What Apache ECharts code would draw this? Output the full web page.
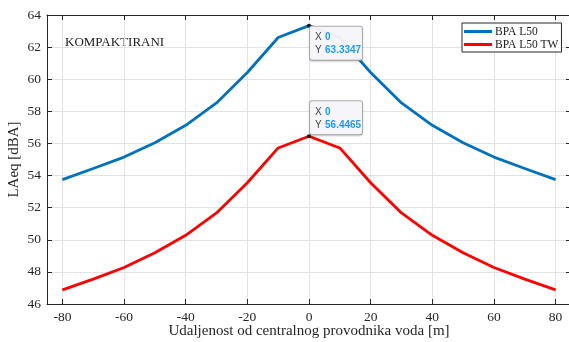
<!DOCTYPE html>
<html>
<head>
<meta charset="utf-8">
<script src="https://cdn.jsdelivr.net/npm/echarts@6/dist/echarts.min.js"></script>
<style>
  html, body { margin: 0; padding: 0; background: #fff; }
  #chart { width: 569px; height: 342px; }
</style>
</head>
<body>
<div id="chart"></div>
<script>
// udaljenost od centralnog provodnika [m]
const distances = [-80, -70, -60, -50, -40, -30, -20, -10, 0, 10, 20, 30, 40, 50, 60, 70, 80];
const bpaL50 = [53.75, 54.44, 55.15, 56.04, 57.13, 58.52, 60.42, 62.6, 63.3347, 62.6, 60.42, 58.52, 57.13, 56.04, 55.15, 54.44, 53.75];
const bpaL50TW = [46.88, 47.55, 48.27, 49.19, 50.28, 51.67, 53.55, 55.72, 56.4465, 55.72, 53.55, 51.67, 50.28, 49.19, 48.27, 47.55, 46.88];
const xTicks = [-80, -60, -40, -20, 0, 20, 40, 60, 80];
const peakIndex = 8;

const serif = 'Liberation Serif';
const axisColor = '#262626';
const gridColor = '#e3e3e3';

const pairs = (vals) => distances.map((d, i) => [d, vals[i]]);

const datatip = (vals, pos) => ({
  symbol: 'circle',
  symbolSize: 4,
  itemStyle: { color: '#1a1a1a', borderColor: '#1a1a1a', borderWidth: 0 },
  label: {
    show: true,
    position: pos,
    align: 'left',
    verticalAlign: 'top',
    backgroundColor: 'rgba(248,248,252,0.95)',
    borderColor: '#b0b0b0',
    borderWidth: 1,
    borderRadius: 2,
    padding: [4, 5, 3, 5],
    width: 42,
    shadowColor: 'rgba(0,0,0,0.15)',
    shadowBlur: 2,
    shadowOffsetY: 1,
    formatter: (p) => '{k|X} {v|' + p.data.coord[0] + '}\n{k|Y} {v|' + p.data.coord[1] + '}',
    rich: {
      k: { fontFamily: 'Liberation Sans', fontSize: 10, color: '#444', lineHeight: 13 },
      v: { fontFamily: 'Liberation Sans', fontSize: 10, color: '#1e9bf0', fontWeight: 'bold', lineHeight: 13 }
    }
  },
  data: [{ coord: [distances[peakIndex], vals[peakIndex]] }]
});

const option = {
  animation: false,
  backgroundColor: '#fff',
  grid: { left: 47, top: 15, width: 524, bottom: 38, outerBoundsMode: 'none', containLabel: false },
  graphic: [
    {
      type: 'text',
      left: 65,
      top: 36,
      style: { text: 'KOMPAKTIRANI', font: '13px "Liberation Serif"', fill: '#1a1a1a' }
    }
  ],
  legend: {
    orient: 'vertical',
    left: 462,
    top: 23,
    padding: [2, 3, 1, 2],
    itemGap: 0,
    itemWidth: 28,
    itemHeight: 3,
    icon: 'rect',
    backgroundColor: '#fff',
    borderColor: axisColor,
    borderWidth: 1,
    borderRadius: 0,
    textStyle: { fontFamily: serif, fontSize: 11.5, color: '#1a1a1a', lineHeight: 13, padding: [0, 0, 0, -2] },
    data: ['BPA L50', 'BPA L50 TW']
  },
  xAxis: [
    {
      type: 'value',
      min: -85,
      max: 85,
      name: 'Udaljenost od centralnog provodnika voda [m]',
      nameLocation: 'middle',
      nameGap: 20,
      nameMoveOverlap: false,
      nameTextStyle: { fontFamily: serif, fontSize: 15, color: '#262626' },
      axisLine: { onZero: false, lineStyle: { color: axisColor, width: 1 } },
      axisTick: { inside: true, length: 5, customValues: xTicks, lineStyle: { color: axisColor } },
      axisLabel: { customValues: xTicks, fontFamily: serif, fontSize: 13.5, color: '#262626', margin: 6 },
      splitLine: { show: true, lineStyle: { color: gridColor, width: 1 } }
    },
    {
      type: 'value',
      position: 'top',
      min: -85,
      max: 85,
      axisLine: { onZero: false, lineStyle: { color: axisColor, width: 1 } },
      axisTick: { inside: true, length: 5, customValues: xTicks, lineStyle: { color: axisColor } },
      axisLabel: { show: false },
      splitLine: { show: false }
    }
  ],
  yAxis: [
    {
      type: 'value',
      min: 46,
      max: 64,
      interval: 2,
      name: 'LAeq [dBA]',
      nameLocation: 'middle',
      nameGap: 25,
      nameMoveOverlap: false,
      nameTextStyle: { fontFamily: serif, fontSize: 15, color: '#262626' },
      axisLine: { show: true, onZero: false, lineStyle: { color: axisColor, width: 1 } },
      axisTick: { show: true, inside: true, length: 5, lineStyle: { color: axisColor } },
      axisLabel: { fontFamily: serif, fontSize: 13.5, color: '#262626', margin: 6 },
      splitLine: { show: true, lineStyle: { color: gridColor, width: 1 } }
    },
    {
      type: 'value',
      position: 'right',
      min: 46,
      max: 64,
      interval: 2,
      axisLine: { show: true, onZero: false, lineStyle: { color: axisColor, width: 1 } },
      axisTick: { show: true, inside: true, length: 5, lineStyle: { color: axisColor } },
      axisLabel: { show: false },
      splitLine: { show: false }
    }
  ],
  series: [
    {
      name: 'BPA L50',
      type: 'line',
      showSymbol: false,
      color: '#0072bd',
      lineStyle: { width: 2.8, color: '#0072bd' },
      data: pairs(bpaL50),
      markPoint: datatip(bpaL50, [3, 3])
    },
    {
      name: 'BPA L50 TW',
      type: 'line',
      showSymbol: false,
      color: '#ff0000',
      lineStyle: { width: 2.8, color: '#ff0000' },
      data: pairs(bpaL50TW),
      markPoint: datatip(bpaL50TW, [3, -33])
    }
  ]
};

const chart = echarts.init(document.getElementById('chart'));
chart.setOption(option);
</script>
</body>
</html>
